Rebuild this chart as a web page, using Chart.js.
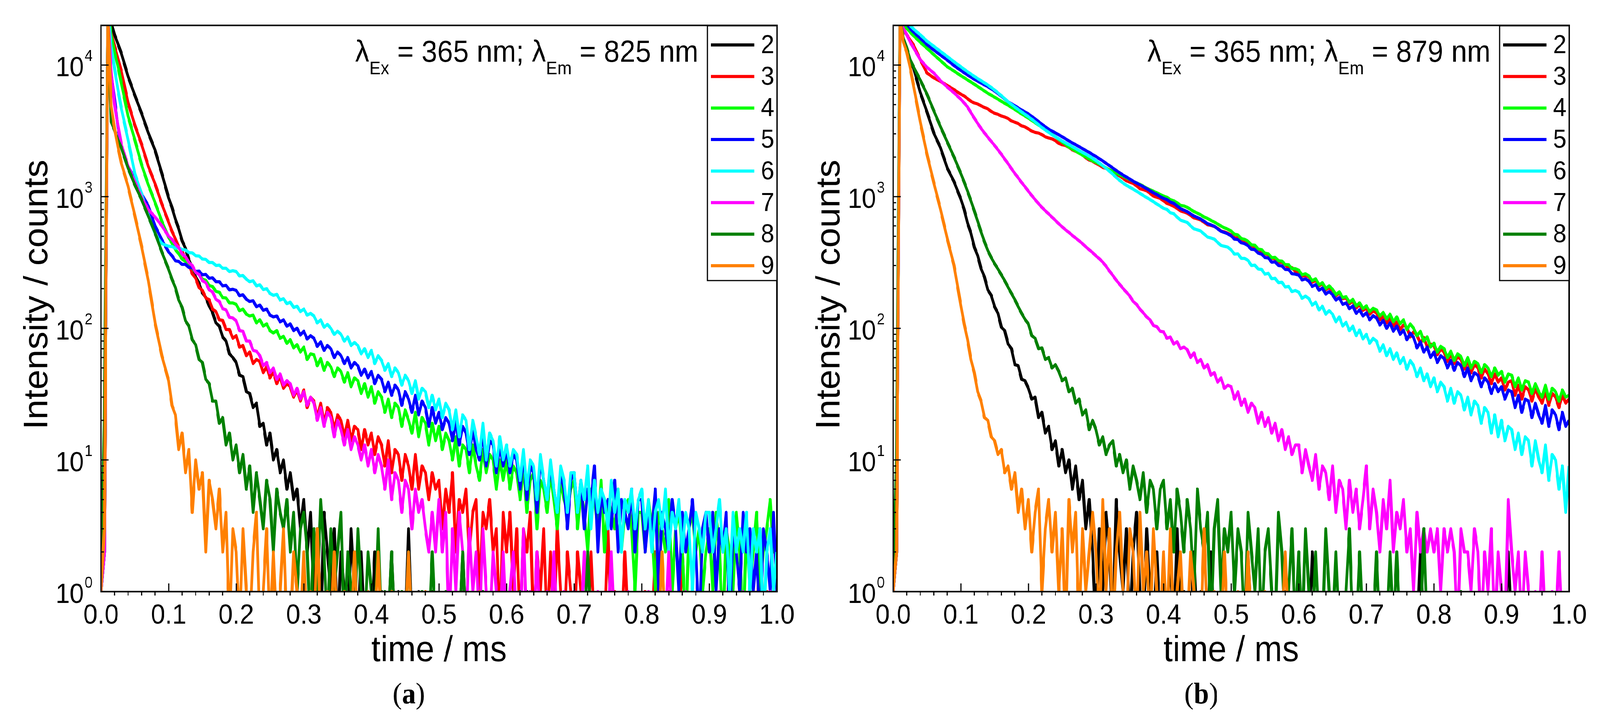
<!DOCTYPE html>
<html>
<head>
<meta charset="utf-8">
<title>Luminescence decay curves</title>
<script src="https://cdn.jsdelivr.net/npm/chart.js"></script>
<style>
  html, body { margin: 0; padding: 0; background: #fff; overflow: hidden; }
  #figure { position: absolute; left: 0; top: 0; width: 4403px; height: 1840px; transform-origin: 0 0; background: #fff; }
  .panel { position: absolute; top: 0; height: 1840px; }
  #panelA { left: 0; width: 2200px; }
  #panelB { left: 2200px; width: 2203px; }
  #warn { position: absolute; left: 10px; bottom: 10px; color: red; font: 30px sans-serif; }
</style>
</head>
<body>
<div id="figure">
  <div class="panel" id="panelA"><canvas id="chartA" width="2200" height="1840"></canvas></div>
  <div class="panel" id="panelB"><canvas id="chartB" width="2203" height="1840"></canvas></div>
  <div id="warn"></div>
</div>
<script>
// time axis (ms), shared by every decay curve
const timeMs = [
  0, 0.005, 0.01, 0.015, 0.02, 0.025, 0.03, 0.04, 0.05, 0.06, 0.07, 0.08, 0.09,
  0.100, 0.105, 0.110, 0.115, 0.120, 0.125, 0.130, 0.135, 0.140, 0.145, 0.150, 0.155, 0.160, 0.165, 0.170, 0.175, 0.180, 0.185, 0.190, 0.195,
  0.200, 0.205, 0.210, 0.215, 0.220, 0.225, 0.230, 0.235, 0.240, 0.245, 0.250, 0.255, 0.260, 0.265, 0.270, 0.275, 0.280, 0.285, 0.290, 0.295,
  0.300, 0.305, 0.310, 0.315, 0.320, 0.325, 0.330, 0.335, 0.340, 0.345, 0.350, 0.355, 0.360, 0.365, 0.370, 0.375, 0.380, 0.385, 0.390, 0.395,
  0.400, 0.405, 0.410, 0.415, 0.420, 0.425, 0.430, 0.435, 0.440, 0.445, 0.450, 0.455, 0.460, 0.465, 0.470, 0.475, 0.480, 0.485, 0.490, 0.495,
  0.500, 0.505, 0.510, 0.515, 0.520, 0.525, 0.530, 0.535, 0.540, 0.545, 0.550, 0.555, 0.560, 0.565, 0.570, 0.575, 0.580, 0.585, 0.590, 0.595,
  0.600, 0.605, 0.610, 0.615, 0.620, 0.625, 0.630, 0.635, 0.640, 0.645, 0.650, 0.655, 0.660, 0.665, 0.670, 0.675, 0.680, 0.685, 0.690, 0.695,
  0.700, 0.705, 0.710, 0.715, 0.720, 0.725, 0.730, 0.735, 0.740, 0.745, 0.750, 0.755, 0.760, 0.765, 0.770, 0.775, 0.780, 0.785, 0.790, 0.795,
  0.800, 0.805, 0.810, 0.815, 0.820, 0.825, 0.830, 0.835, 0.840, 0.845, 0.850, 0.855, 0.860, 0.865, 0.870, 0.875, 0.880, 0.885, 0.890, 0.895,
  0.900, 0.905, 0.910, 0.915, 0.920, 0.925, 0.930, 0.935, 0.940, 0.945, 0.950, 0.955, 0.960, 0.965, 0.970, 0.975, 0.980, 0.985, 0.990, 0.995,
  1.000
];

const seriesLabels = ['2', '3', '4', '5', '6', '7', '8', '9'];
const seriesColors = ['#000000', '#ff0000', '#00ff00', '#0000ff', '#00ffff', '#ff00ff', '#008000', '#ff8000'];

const xTickValues = [0, 0.1, 0.2, 0.3, 0.4, 0.5, 0.6, 0.7, 0.8, 0.9, 1.0];
const xTickLabels = ['0.0', '0.1', '0.2', '0.3', '0.4', '0.5', '0.6', '0.7', '0.8', '0.9', '1.0'];
const yTickExponents = [0, 1, 2, 3, 4];

const E = 0.5; // empty channel: plotted below the 10^0 axis

// (a) lambda_em = 825 nm
const decayA2 = [
  1, 2, 30000, 21000, 17000, 14500, 12300, 8200, 5900, 4300, 3050, 2250, 1500,
  980, 830, 675, 570, 462, 405, 332, 290, 246, 220, 186, 172, 148, 132, 110, 104, 86, 80, 64, 60,
  55, 44, 43, 33, 32, 25, 27, 18, 19, 13, 16, 10, 12, 8, 10, 6, 8, 5, 6, 3,
  5, 2, 4, 1, 3, E, 4, 2, 1, 3, E, 2, 1, E, 3, 1, E, 2, E, 1,
  E, 2, E, 1, E, E, 2, E, 1, E, E, 3, E, E, 1, E, E, E, 1, E,
  E, E, 1, E, E, E, E, 2, E, E, E, E, E, 1, E, E, E, E, E, E,
  E, E, E, E, E, E, 1, E, E, E, E, E, E, E, E, E, E, E, E, E,
  E, E, E, E, E, E, E, E, E, E, E, E, E, E, E, E, E, E, E, E,
  E, E, E, E, E, E, E, E, E, E, E, E, E, E, E, E, E, E, E, E,
  E, E, E, E, E, E, E, E, E, E, E, E, E, E, E, E, E, E, E, E,
  E
];
const decayA3 = [
  1, 2, 26000, 17500, 14000, 11200, 9000, 5200, 3500, 2500, 1700, 1250, 880,
  640, 545, 478, 414, 384, 330, 305, 260, 240, 204, 194, 170, 165, 140, 134, 116, 115, 98, 98, 84,
  88, 72, 74, 62, 66, 54, 58, 56, 46, 51, 42, 47, 38, 43, 35, 38, 36, 30, 34, 28,
  34, 25, 30, 28, 21, 27, 19, 25, 23, 17, 22, 20, 15, 20, 14, 18, 17, 12, 17, 13,
  16, 11, 15, 13, 9, 14, 8, 12, 11, 7, 11, 9, 6, 11, 6, 9, 8, 5, 8, 6,
  7, 3, 6, 4, 8, 2, 5, 4, 6, 2, 4, 5, 1, 4, 3, 5, 2, 3, E, 4,
  2, 4, 1, 3, E, 3, 2, 4, E, 2, 1, 3, E, 2, E, 3, 1, E, 2, 1,
  E, 2, 1, E, E, 2, E, 1, E, E, 3, E, 1, E, E, 2, E, E, 1, E,
  E, 1, E, E, 2, E, E, E, 1, E, E, E, 2, E, E, 1, E, E, E, E,
  E, E, 1, E, E, E, 2, E, E, E, 1, E, E, E, E, 3, E, 1, E, E,
  E
];
const decayA4 = [
  1, 2, 26000, 17000, 12500, 9800, 7300, 4100, 2700, 1750, 1230, 900, 650,
  490, 444, 396, 368, 336, 322, 296, 288, 266, 258, 236, 232, 211, 208, 191, 188, 171, 170, 156, 156,
  152, 136, 140, 128, 124, 126, 110, 116, 104, 108, 96, 92, 96, 84, 87, 77, 82, 71, 75, 66,
  72, 58, 64, 63, 52, 59, 48, 55, 51, 43, 50, 47, 39, 46, 36, 42, 40, 32, 38, 30,
  36, 27, 33, 30, 23, 29, 21, 27, 25, 18, 24, 20, 16, 23, 15, 21, 19, 13, 19, 14,
  18, 12, 16, 14, 10, 15, 9, 13, 12, 8, 13, 9, 7, 12, 8, 11, 10, 6, 10, 7,
  10, 6, 9, 8, 5, 9, 4, 7, 8, 3, 7, 6, 4, 8, 5, 3, 7, 5, 4, 6,
  7, 3, 6, 4, 2, 6, 5, 3, 7, 2, 5, 4, 3, 6, 2, 4, 5, 3, 1, 4,
  4, 2, 5, 3, 1, 4, 3, 2, 5, 1, 3, 4, 2, E, 3, 4, 2, 3, 1, 2,
  3, 1, 4, 2, E, 3, 2, 1, 4, 2, E, 3, 1, 2, 4, 1, 2, 3, 5, 2,
  2
];
const decayA5 = [
  1, 2, 24000, 8600, 5500, 3400, 2400, 1700, 1350, 1050, 850, 600, 470,
  380, 356, 326, 322, 306, 306, 290, 290, 270, 272, 255, 257, 240, 242, 226, 226, 210, 212, 196, 198,
  194, 177, 180, 166, 160, 162, 146, 150, 137, 140, 126, 122, 124, 112, 116, 104, 108, 96, 100, 89,
  95, 83, 88, 84, 73, 79, 68, 74, 70, 60, 66, 62, 54, 60, 50, 55, 52, 44, 49, 42,
  47, 38, 44, 41, 33, 39, 31, 37, 34, 26, 33, 29, 23, 31, 22, 28, 25, 18, 25, 19,
  23, 17, 21, 19, 14, 20, 13, 18, 16, 11, 17, 12, 10, 16, 9, 14, 13, 8, 13, 9,
  12, 8, 11, 10, 6, 11, 5, 9, 8, 4, 10, 7, 5, 9, 6, 4, 8, 6, 3, 7,
  8, 4, 7, 3, 6, 5, 9, 2, 6, 4, 5, 3, 7, 2, 5, 4, 3, 6, 2, 5,
  5, 2, 4, 3, 6, 1, 4, 3, 2, 5, 3, 1, 4, 2, 3, 5, 2, E, 3, 4,
  2, 4, 1, 3, 2, 4, E, 3, 2, 1, 4, 2, 3, 1, 2, E, 3, 2, 1, 4,
  1
];
const decayA6 = [
  1, 3, 25000, 14000, 9500, 6500, 4700, 2700, 1500, 1050, 720, 520, 440,
  420, 418, 406, 410, 396, 394, 376, 374, 356, 354, 336, 334, 316, 316, 300, 302, 286, 286, 270, 274,
  270, 250, 252, 236, 226, 230, 210, 214, 197, 200, 184, 178, 181, 164, 168, 154, 158, 144, 147, 134,
  140, 126, 130, 124, 110, 116, 102, 107, 100, 90, 95, 90, 80, 86, 74, 78, 74, 64, 70, 60,
  68, 54, 62, 57, 48, 54, 43, 50, 46, 37, 44, 40, 32, 40, 29, 35, 33, 25, 31, 24,
  29, 21, 27, 24, 17, 24, 15, 22, 20, 12, 20, 15, 11, 19, 10, 16, 14, 9, 15, 10,
  13, 9, 12, 11, 7, 12, 6, 10, 9, 5, 11, 7, 5, 10, 6, 4, 9, 7, 4, 8,
  8, 4, 7, 5, 9, 3, 7, 4, 6, 5, 3, 7, 4, 6, 2, 5, 4, 6, 3, 5,
  6, 3, 5, 2, 4, 5, 3, 6, 2, 4, 3, 5, 2, 4, 3, 1, 4, 3, 2, 4,
  4, 2, 3, 5, 2, 3, 1, 4, 2, 3, 2, 4, 1, 3, 2, 3, E, 2, 3, 1,
  2
];
const decayA7 = [
  1, 2, 24000, 9000, 5000, 3500, 2500, 1700, 1300, 980, 800, 700, 600,
  500, 474, 436, 410, 366, 350, 316, 300, 266, 256, 230, 222, 196, 189, 166, 160, 141, 138, 121, 120,
  114, 96, 95, 80, 80, 68, 67, 62, 52, 55, 46, 50, 41, 45, 37, 40, 38, 31, 35, 29,
  33, 26, 30, 27, 20, 25, 18, 23, 21, 15, 20, 17, 13, 17, 12, 15, 13, 10, 13, 9,
  12, 8, 11, 9, 6, 10, 5, 8, 7, 4, 7, 6, 3, 6, 4, 5, 3, 2, 4, 2,
  5, 2, 4, E, 3, 1, 4, 2, E, 3, 1, 2, E, 3, 1, E, 2, 1, E, 2,
  E, 1, 2, E, E, 3, E, 1, E, 2, E, E, 1, E, 2, E, E, 1, E, E,
  1, E, E, 2, E, E, E, 1, E, E, E, 2, E, E, E, E, 1, E, E, E,
  E, E, 1, E, E, E, E, E, 2, E, E, E, E, 1, E, E, E, E, E, E,
  E, E, E, 1, E, E, E, E, E, E, 1, E, E, E, E, E, E, E, 1, E,
  E
];
const decayA8 = [
  1, 20, 22000, 3700, 3200, 2700, 2350, 1650, 1230, 950, 710, 530, 380,
  280, 236, 204, 164, 144, 114, 104, 82, 75, 58, 55, 41, 38, 28, 28, 19, 21, 13, 16, 10,
  13, 8, 11, 6, 9, 4, 8, 5, 3, 7, 5, 2, 6, 4, 3, 5, 2, 4, 1, 3,
  4, 2, E, 3, 1, 5, 2, E, 3, 1, 2, 4, E, 2, 1, E, 3, 1, E, 2,
  1, E, 3, E, 1, E, 2, E, E, 1, E, 2, E, E, E, 1, E, E, 2, E,
  E, E, 1, E, E, E, E, 2, E, E, E, E, E, 1, E, E, E, E, E, E,
  E, E, E, E, 1, E, E, E, E, E, E, E, E, E, E, E, E, E, E, E,
  E, E, E, E, 2, E, E, E, E, E, E, E, E, E, E, E, E, E, E, E,
  E, E, E, E, E, E, E, E, E, E, E, E, E, E, E, E, E, E, E, E,
  E, E, E, E, E, E, E, E, E, E, E, E, E, E, E, E, E, E, E, E,
  E
];
const decayA9 = [
  1, 3, 25000, 4900, 3300, 2400, 1800, 1200, 720, 420, 230, 110, 62,
  40, 26, 22, 12, 16, 8, 12, 4, 10, 6, 8, 2, 7, 5, 3, 6, 2, 4, E, 3,
  2, E, 3, 1, E, 2, 4, E, 1, 3, E, 2, E, 1, 3, E, E, 2, 1, E,
  2, E, 1, E, 3, E, E, 1, E, 2, E, E, 1, E, E, 2, E, E, E, 1,
  E, E, 2, E, E, E, 1, E, E, E, E, 2, E, E, E, E, 1, E, E, E,
  E, E, E, E, E, E, E, E, E, E, E, E, 1, E, E, E, E, E, E, E,
  E, E, E, E, E, E, E, E, E, E, E, E, E, E, E, E, E, E, E, E,
  E, E, E, E, E, E, E, E, E, E, E, E, E, E, E, E, E, E, E, E,
  E, E, E, E, E, E, 2, E, E, E, E, E, E, E, E, E, E, E, E, E,
  E, E, E, E, E, E, E, E, E, E, E, E, E, E, E, E, E, E, E, E,
  E
];

// (b) lambda_em = 879 nm
const decayB2 = [
  1, 2, 22000, 16000, 13000, 10500, 9500, 6200, 4400, 3050, 2350, 1650, 1300,
  960, 800, 630, 528, 414, 356, 284, 246, 196, 178, 146, 130, 102, 96, 76, 70, 53, 52, 41, 40,
  35, 29, 30, 21, 23, 16, 18, 12, 14, 9, 12, 8, 10, 6, 9, 5, 7, 3, 5, 2,
  E, 3, 1, 4, 2, E, 5, 2, 1, 3, E, 2, 4, 1, E, 3, 1, E, 2, E,
  1, E, 2, E, 3, E, 1, E, E, 2, E, 1, E, E, 2, E, E, 1, E, E,
  E, 1, E, E, E, 2, E, E, E, 1, E, E, E, E, E, E, 1, E, E, E,
  E, E, E, E, 2, E, E, E, E, E, E, E, E, E, E, E, E, E, E, E,
  E, E, E, E, E, E, E, E, E, E, E, E, E, E, E, E, 2, E, E, E,
  E, E, E, E, E, E, E, E, E, E, E, E, E, E, E, E, E, E, E, E,
  E, E, 2, E, E, E, E, E, E, E, E, E, E, E, E, E, E, E, E, E,
  E
];
const decayB3 = [
  1, 2, 24000, 19000, 17000, 15500, 14200, 11000, 8700, 8000, 7500, 7000, 6500,
  6000, 5820, 5550, 5300, 5150, 5060, 4900, 4760, 4650, 4440, 4300, 4220, 4100, 4030, 3920, 3760, 3680, 3590, 3450, 3390,
  3270, 3150, 3080, 3040, 2960, 2850, 2790, 2750, 2660, 2540, 2480, 2450, 2370, 2270, 2210, 2170, 2090, 1970, 1900, 1860,
  1790, 1740, 1670, 1640, 1570, 1500, 1470, 1440, 1380, 1320, 1290, 1260, 1210, 1150, 1130, 1110, 1060, 1010, 990, 970,
  930, 890, 870, 845, 815, 780, 765, 750, 720, 690, 680, 665, 640, 612, 605, 594, 575, 548, 540, 528,
  512, 488, 486, 458, 454, 441, 414, 410, 398, 376, 368, 362, 340, 338, 316, 318, 304, 286, 289, 270,
  270, 249, 252, 246, 224, 231, 210, 218, 196, 204, 192, 176, 186, 168, 170, 154, 162, 143, 151, 137,
  142, 128, 136, 131, 116, 124, 110, 120, 104, 112, 98, 106, 101, 86, 94, 88, 77, 85, 72, 76,
  74, 63, 70, 66, 56, 64, 54, 61, 58, 49, 57, 46, 53, 50, 42, 49, 45, 38, 45, 39,
  42, 34, 39, 40, 31, 37, 29, 36, 34, 28, 35, 30, 27, 34, 26, 32, 30, 25, 31, 27,
  29
];
const decayB4 = [
  1, 2, 25000, 20500, 19000, 17800, 16700, 14900, 13400, 12000, 10800, 9700, 9000,
  8300, 8010, 7700, 7420, 7150, 6870, 6600, 6350, 6100, 5900, 5700, 5500, 5300, 5120, 4950, 4770, 4600, 4420, 4250, 4100,
  3950, 3800, 3650, 3500, 3370, 3230, 3100, 2970, 2850, 2720, 2600, 2490, 2380, 2300, 2220, 2140, 2070, 2000, 1930, 1870,
  1820, 1770, 1710, 1650, 1600, 1560, 1510, 1470, 1430, 1390, 1350, 1310, 1270, 1240, 1200, 1160, 1130, 1100, 1070, 1040,
  1010, 990, 950, 930, 900, 860, 850, 830, 800, 770, 750, 728, 700, 684, 660, 642, 620, 598, 580, 566,
  548, 518, 512, 480, 474, 458, 430, 428, 400, 396, 372, 368, 344, 346, 326, 324, 305, 304, 284, 284,
  276, 255, 260, 250, 230, 238, 214, 222, 200, 210, 198, 180, 189, 171, 174, 158, 166, 148, 156, 141,
  148, 134, 142, 138, 124, 132, 118, 128, 112, 122, 108, 116, 98, 108, 100, 88, 95, 80, 86, 72,
  77, 66, 73, 70, 60, 67, 57, 64, 61, 52, 60, 50, 56, 54, 46, 53, 50, 43, 50, 44,
  47, 39, 45, 44, 36, 42, 34, 40, 39, 32, 38, 33, 30, 37, 29, 35, 33, 28, 34, 30,
  31
];
const decayB5 = [
  1, 2, 26000, 22000, 20500, 19000, 17800, 16000, 14300, 13000, 11900, 10900, 9900,
  9100, 8740, 8400, 8090, 7800, 7540, 7300, 7070, 6850, 6600, 6350, 6070, 5800, 5520, 5250, 5070, 4900, 4720, 4550, 4400,
  4250, 4070, 3900, 3720, 3550, 3400, 3250, 3150, 3050, 2950, 2850, 2750, 2650, 2560, 2480, 2400, 2320, 2240, 2170, 2090,
  2020, 1940, 1870, 1790, 1720, 1650, 1580, 1520, 1460, 1410, 1360, 1310, 1270, 1230, 1190, 1150, 1110, 1070, 1040, 1000,
  970, 950, 910, 890, 850, 812, 790, 770, 740, 712, 695, 676, 650, 624, 610, 596, 570, 546, 535, 522,
  504, 476, 472, 446, 440, 424, 398, 396, 372, 366, 345, 342, 318, 320, 300, 298, 280, 279, 260, 258,
  254, 233, 238, 228, 208, 215, 195, 202, 182, 190, 180, 164, 171, 152, 156, 141, 148, 130, 138, 124,
  131, 116, 125, 120, 106, 115, 100, 110, 95, 104, 90, 97, 82, 92, 85, 71, 79, 66, 72, 60,
  66, 55, 62, 59, 50, 57, 48, 55, 52, 43, 50, 40, 46, 44, 36, 42, 39, 32, 38, 33,
  36, 29, 34, 33, 25, 31, 23, 29, 28, 21, 27, 22, 19, 26, 18, 24, 22, 17, 23, 18,
  20
];
const decayB6 = [
  1, 8, 27000, 23000, 21500, 20000, 18800, 17000, 15200, 13900, 12700, 11600, 10600,
  9700, 9290, 8900, 8540, 8200, 7890, 7600, 7320, 7050, 6750, 6450, 6150, 5850, 5550, 5250, 5020, 4800, 4600, 4400, 4220,
  4050, 3870, 3700, 3520, 3350, 3210, 3080, 2960, 2850, 2750, 2650, 2560, 2480, 2400, 2320, 2240, 2170, 2100, 2030, 1960,
  1880, 1800, 1720, 1640, 1560, 1480, 1400, 1330, 1270, 1220, 1180, 1140, 1100, 1060, 1020, 985, 950, 915, 880, 848,
  815, 800, 755, 742, 700, 664, 650, 638, 600, 570, 560, 548, 520, 494, 485, 476, 450, 426, 420, 414,
  394, 366, 368, 340, 340, 328, 300, 302, 282, 280, 258, 262, 238, 240, 222, 224, 206, 208, 190, 194,
  188, 169, 176, 168, 150, 158, 138, 147, 128, 136, 128, 112, 122, 104, 111, 96, 104, 88, 97, 83,
  90, 77, 84, 80, 67, 75, 62, 70, 58, 65, 54, 60, 49, 57, 52, 43, 50, 40, 45, 36,
  42, 33, 39, 36, 28, 35, 27, 33, 31, 24, 30, 22, 28, 26, 19, 25, 23, 16, 22, 15,
  20, 14, 18, 17, 12, 16, 11, 15, 14, 9, 14, 10, 8, 13, 7, 11, 10, 6, 9, 4,
  9
];
const decayB7 = [
  1, 2, 22000, 19000, 17000, 15000, 13500, 11000, 9600, 8700, 7600, 6800, 6150,
  5500, 5150, 4800, 4350, 3950, 3600, 3300, 3050, 2830, 2630, 2450, 2270, 2100, 1930, 1780, 1630, 1500, 1390, 1280, 1190,
  1100, 1020, 950, 885, 830, 782, 740, 698, 660, 622, 590, 560, 535, 508, 485, 462, 440, 416, 395, 376,
  355, 338, 318, 296, 272, 252, 232, 216, 201, 188, 176, 160, 152, 140, 131, 122, 116, 105, 103, 95,
  94, 84, 86, 76, 79, 70, 72, 69, 60, 65, 55, 58, 50, 53, 44, 46, 39, 42, 35, 37,
  36, 29, 33, 26, 29, 23, 27, 25, 19, 23, 18, 21, 16, 19, 14, 17, 12, 15, 11, 13,
  13, 8, 12, 9, 7, 11, 6, 9, 8, 5, 9, 4, 7, 6, 3, 7, 4, 6, 3, 5,
  9, 3, 6, 4, 2, 5, 3, 7, 2, 4, 3, 5, 2, 3, 1, 4, 2, 3, 2, 3,
  2, 3, 1, 3, 2, 3, 2, E, 3, 2, 2, 1, 3, 2, E, 2, 1, 3, E, 2,
  1, E, 5, 2, 1, 2, E, 2, 1, E, 1, E, 2, E, E, 1, E, 2, E, E,
  E
];
const decayB8 = [
  1, 10, 22000, 16000, 13500, 11000, 9700, 7700, 6000, 4500, 3400, 2600, 2000,
  1500, 1290, 1100, 930, 780, 650, 540, 455, 390, 345, 310, 282, 255, 230, 205, 184, 165, 146, 130, 117,
  108, 88, 84, 70, 71, 58, 60, 50, 53, 47, 40, 42, 33, 35, 27, 29, 22, 24, 17, 20,
  17, 13, 15, 11, 13, 14, 9, 11, 8, 10, 6, 9, 7, 5, 8, 4, 7, 6, 3, 6,
  7, 3, 5, 2, 6, 4, 2, 5, 3, 1, 6, 3, 2, 4, E, 3, 5, 1, 3, 2,
  4, 1, 3, 2, E, 4, 2, 1, 3, E, 2, 3, 1, E, 4, 2, E, 1, 3, E,
  2, E, 3, 1, E, 2, E, E, 3, 1, E, 2, E, E, 1, 3, E, E, 2, E,
  E, E, E, 2, E, E, E, 2, E, 2, E, E, E, E, E, E, E, 3, E, E,
  E, E, E, E, E, E, E, E, 1, E, E, E, E, E, E, E, E, E, E, E,
  E, E, E, E, E, E, E, E, E, E, E, E, E, E, E, E, E, E, E, E,
  E
];
const decayB9 = [
  1, 2, 22000, 15000, 12500, 9600, 7000, 3700, 2100, 1280, 800, 480, 300,
  150, 108, 82, 58, 46, 33, 28, 21, 20, 15, 14, 11, 12, 8, 9, 6, 8, 4, 6, 3,
  5, 2, 4, 6, 1, 3, 5, 2, 4, 1, 3, E, 5, 2, 4, E, 3, 1, 2, 4,
  2, E, 5, 1, 3, E, 2, 4, 1, E, 3, 2, E, 4, 1, 2, E, 3, 1, E,
  2, E, 3, E, 1, 2, E, E, 2, 1, E, E, 3, E, E, 1, E, E, 2, E,
  E, E, 1, E, E, 2, E, E, E, E, 1, E, E, E, E, E, 2, E, E, E,
  E, E, E, E, E, E, E, E, E, E, E, E, E, E, E, E, E, E, E, E,
  E, E, E, E, E, E, E, E, E, E, E, E, E, E, E, E, E, E, E, E,
  E, E, E, E, E, E, E, E, E, E, E, E, E, E, E, E, E, E, E, E,
  E, E, E, E, E, E, E, E, E, E, E, E, E, E, E, E, E, E, E, E,
  E
];

const seriesA = [decayA2, decayA3, decayA4, decayA5, decayA6, decayA7, decayA8, decayA9];
const seriesB = [decayB2, decayB3, decayB4, decayB5, decayB6, decayB7, decayB8, decayB9];

// fit the 4403 x 1840 figure into whatever viewport we get
(function fitFigure() {
  const fig = document.getElementById('figure');
  const sx = window.innerWidth / 4403, sy = window.innerHeight / 1840;
  if (Math.abs(sx - 1) > 0.001 || Math.abs(sy - 1) > 0.001) {
    fig.style.transform = 'scale(' + sx + ',' + sy + ')';
  }
})();

// length sanity check
[...seriesA, ...seriesB].forEach((s, i) => {
  if (s.length !== timeMs.length) {
    document.getElementById('warn').textContent += ' series ' + i + ' has ' + s.length + ' / ' + timeMs.length;
  }
});

const SANS = '"Liberation Sans", Arial, sans-serif';
const SERIF = '"Liberation Serif", "DejaVu Serif", serif';

// frame, Origin-style ticks, labels, legend and caption
const decor = {
  id: 'decor',
  afterDatasetsDraw(chart, args, o) {
    const ctx = chart.ctx;
    const a = chart.chartArea;
    const x = chart.scales.x, y = chart.scales.y;
    ctx.save();
    ctx.strokeStyle = '#000';
    ctx.fillStyle = '#000';

    // ticks: majors point in, x minors point out
    ctx.lineWidth = 3;
    ctx.beginPath();
    xTickValues.forEach((v, k) => {
      const px = x.getPixelForValue(v);
      ctx.moveTo(px, a.bottom); ctx.lineTo(px, a.bottom - 21);
      if (k < xTickValues.length - 1) {
        const step = (xTickValues[k + 1] - v) / 5;
        for (let m = 1; m < 5; m++) {
          const mx = x.getPixelForValue(v + m * step);
          ctx.moveTo(mx, a.bottom); ctx.lineTo(mx, a.bottom + 10);
        }
      }
    });
    yTickExponents.forEach(e => {
      const dec = Math.pow(10, e);
      const py = y.getPixelForValue(dec);
      ctx.moveTo(a.left, py); ctx.lineTo(a.left + 21, py);
      for (let m = 2; m <= 9; m++) {
        if (dec * m > y.max) break;
        const my = y.getPixelForValue(dec * m);
        ctx.moveTo(a.left, my); ctx.lineTo(a.left + 8, my);
      }
    });
    ctx.stroke();

    ctx.lineWidth = 4;
    ctx.strokeRect(a.left, a.top, a.right - a.left, a.bottom - a.top);

    ctx.textBaseline = 'alphabetic';
    // x tick labels
    ctx.font = '70px ' + SANS;
    ctx.textAlign = 'center';
    xTickValues.forEach((v, k) => ctx.fillText(xTickLabels[k], x.getPixelForValue(v), a.bottom + 82));

    // y tick labels 10^n
    ctx.textAlign = 'right';
    yTickExponents.forEach(e => {
      const py = y.getPixelForValue(Math.pow(10, e));
      const xr = a.left - 23;
      ctx.font = '40px ' + SANS;
      const sup = String(e);
      const supW = ctx.measureText(sup).width;
      ctx.fillText(sup, xr, py - 10);
      ctx.font = '70px ' + SANS;
      ctx.fillText('10', xr - supW - 2, py + 29);
    });

    // axis titles
    ctx.font = '92px ' + SANS;
    ctx.textAlign = 'center';
    ctx.fillText(o.xTitle, (a.left + a.right) / 2, a.bottom + 178);
    ctx.save();
    ctx.translate(a.left - 148, a.top + 689);
    ctx.rotate(-Math.PI / 2);
    ctx.fillText(o.yTitle, 0, 0);
    ctx.restore();

    // annotation λEx = 365 nm; λEm = ... nm
    const parts = [
      ['\u03bb', 78, 0], ['Ex', 47, 32], [' = ' + o.excitation + ' nm; ', 78, 0],
      ['\u03bb', 78, 0], ['Em', 47, 32], [' = ' + o.emission + ' nm', 78, 0]
    ];
    let total = 0;
    parts.forEach(p => { ctx.font = p[1] + 'px ' + SANS; total += ctx.measureText(p[0]).width; });
    let cx = a.right - 216 - total;
    ctx.textAlign = 'left';
    parts.forEach(p => {
      ctx.font = p[1] + 'px ' + SANS;
      ctx.fillText(p[0], cx, a.top + 93 + p[2]);
      cx += ctx.measureText(p[0]).width;
    });

    // legend box
    const bw = 191, bh = 652;
    const bx = a.right - bw, by = a.top + 1;
    ctx.fillStyle = '#fff';
    ctx.fillRect(bx, by, bw, bh);
    ctx.lineWidth = 3;
    ctx.strokeRect(bx, by, bw, bh);
    chart.data.datasets.forEach((ds, i) => {
      const ly = a.top + 50 + i * 80.7;
      ctx.strokeStyle = ds.borderColor;
      ctx.lineWidth = 8;
      ctx.beginPath();
      ctx.moveTo(a.right - 182, ly); ctx.lineTo(a.right - 62, ly);
      ctx.stroke();
      ctx.fillStyle = '#000';
      ctx.font = '66px ' + SANS;
      ctx.textAlign = 'center';
      ctx.fillText(ds.label, a.right - 26, ly + 21);
    });

    // caption (a)/(b)
    ctx.fillStyle = '#000';
    ctx.textAlign = 'left';
    const capParts = [['(', 'normal'], [o.caption, 'bold'], [')', 'normal']];
    let cw = 0;
    capParts.forEach(p => { ctx.font = p[1] + ' 76px ' + SERIF; cw += ctx.measureText(p[0]).width; });
    let kx = o.captionX - cw / 2;
    capParts.forEach(p => {
      ctx.font = p[1] + ' 76px ' + SERIF;
      ctx.fillText(p[0], kx, 1800);
      kx += ctx.measureText(p[0]).width;
    });
    ctx.restore();
  }
};

function makeChart(canvasId, series, panel) {
  return new Chart(document.getElementById(canvasId), {
    type: 'line',
    data: {
      datasets: series.map((vals, i) => ({
        label: seriesLabels[i],
        data: vals.map((v, k) => ({ x: timeMs[k], y: v })),
        borderColor: seriesColors[i],
        borderWidth: 8,
        pointRadius: 0,
        tension: 0,
        borderJoinStyle: 'round',
        fill: false,
        clip: 0,
        order: seriesLabels.length - i
      }))
    },
    options: {
      responsive: false,
      animation: false,
      devicePixelRatio: 1,
      layout: { padding: { left: 0, right: panel.padRight, top: 65, bottom: 0 } },
      plugins: {
        legend: { display: false },
        tooltip: { enabled: false },
        decor: panel
      },
      scales: {
        x: {
          type: 'linear', min: 0, max: 1,
          ticks: { display: false }, grid: { display: false }, border: { display: false },
          afterFit: s => { s.height = 326; }
        },
        y: {
          type: 'logarithmic', min: 1, max: 20000,
          ticks: { display: false }, grid: { display: false }, border: { display: false },
          afterFit: s => { s.width = panel.axisWidth; }
        }
      }
    },
    plugins: [decor]
  });
}

makeChart('chartA', seriesA, {
  axisWidth: 278, padRight: 62, caption: 'a', captionX: 1125,
  excitation: '365', emission: '825', xTitle: 'time / ms', yTitle: 'Intensity / counts'
});
makeChart('chartB', seriesB, {
  axisWidth: 258, padRight: 85, caption: 'b', captionX: 1106,
  excitation: '365', emission: '879', xTitle: 'time / ms', yTitle: 'Intensity / counts'
});
</script>
</body>
</html>
